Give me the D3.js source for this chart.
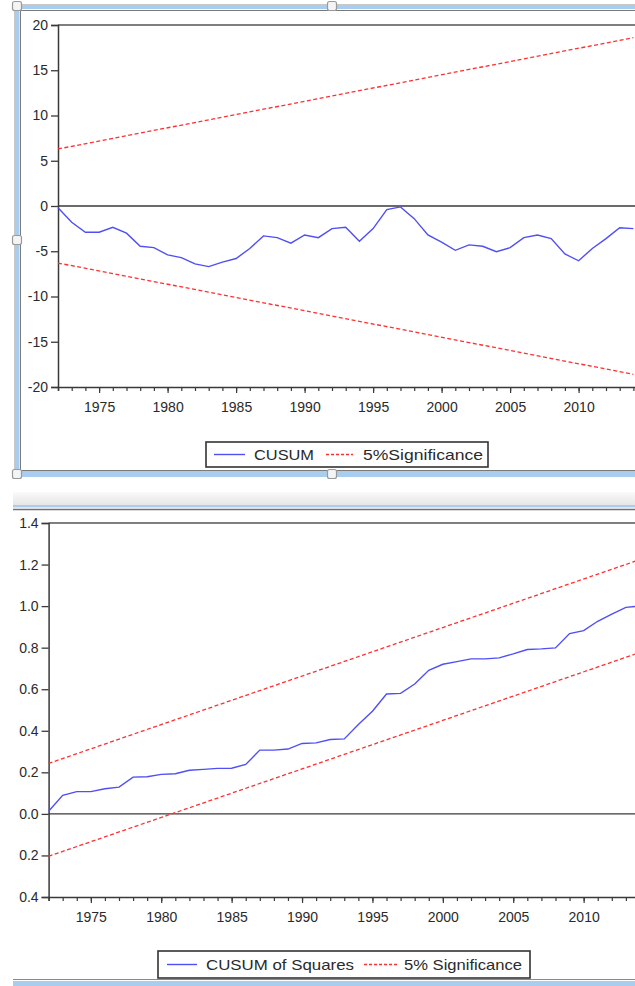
<!DOCTYPE html>
<html><head><meta charset="utf-8">
<script src="https://cdn.jsdelivr.net/npm/d3@7"></script>
<style>
html,body{margin:0;padding:0;background:#fff;overflow:hidden;}
svg{display:block;}
text{font-family:"Liberation Sans",Arial,sans-serif;fill:#2a2a2a;}
</style></head>
<body>
<svg id="c" width="635" height="986"></svg>
<script>
// ---------- data ----------
const years = [1972,1973,1974,1975,1976,1977,1978,1979,1980,1981,1982,1983,1984,1985,1986,1987,1988,1989,1990,1991,1992,1993,1994,1995,1996,1997,1998,1999,2000,2001,2002,2003,2004,2005,2006,2007,2008,2009,2010,2011,2012,2013,2014];
const cusum = [-0.2,-1.8,-2.9,-2.9,-2.35,-3.0,-4.45,-4.6,-5.4,-5.7,-6.4,-6.7,-6.2,-5.8,-4.7,-3.3,-3.5,-4.1,-3.2,-3.5,-2.5,-2.35,-3.9,-2.5,-0.4,-0.1,-1.4,-3.2,-4.0,-4.9,-4.3,-4.45,-5.05,-4.6,-3.5,-3.2,-3.6,-5.3,-6.05,-4.7,-3.6,-2.4,-2.5];
const cusumSq = [0.013,0.089,0.107,0.107,0.121,0.129,0.177,0.179,0.19,0.193,0.21,0.214,0.219,0.22,0.238,0.307,0.307,0.312,0.339,0.342,0.358,0.361,0.43,0.494,0.577,0.58,0.625,0.691,0.72,0.733,0.746,0.746,0.751,0.77,0.791,0.794,0.799,0.868,0.882,0.927,0.962,0.994,1.0];
const boundYears = [1972, 2014];
const cusumUpper = [6.3, 18.6];
const cusumLower = [-6.3, -18.6];
const sqUpper = [0.243, 1.224];
const sqLower = [-0.204, 0.777];
const cusumTicks = [20,15,10,5,0,-5,-10,-15,-20];
const sqTicks = [1.4,1.2,1.0,0.8,0.6,0.4,0.2,0.0,-0.2,-0.4];
const sqTickLabels = ["1.4","1.2","1.0","0.8","0.6","0.4","0.2","0.0","0.2","0.4"];
const xLabelYears = [1975,1980,1985,1990,1995,2000,2005,2010];
const xMajorTicks = [1975,1980,1985,1990,1995,2000,2005,2010,2015];
const legend1 = ["CUSUM","5%Significance"];
const legend2 = ["CUSUM of Squares","5% Significance"];

const BLUE = "#4f4ff5", RED = "#ff3030", AX = "#3a3a3a", WB = "#a9cdef";
const svg = d3.select("#c");

// ---------- window chrome ----------
function chrome(){
  svg.append("rect").attr("x",15).attr("y",5).attr("width",625).attr("height",4).attr("fill",WB);
  svg.append("line").attr("x1",15).attr("x2",640).attr("y1",4.5).attr("y2",4.5).attr("stroke","#c8c8c8");
  svg.append("line").attr("x1",20).attr("x2",640).attr("y1",10.5).attr("y2",10.5).attr("stroke","#7a7a7a");
  svg.append("rect").attr("x",15).attr("y",5).attr("width",4.5).attr("height",470).attr("fill",WB);
  svg.append("line").attr("x1",20.5).attr("x2",20.5).attr("y1",10).attr("y2",471).attr("stroke","#7a7a7a");
  svg.append("line").attr("x1",14.5).attr("x2",14.5).attr("y1",5).attr("y2",477).attr("stroke","#c8c8c8");
  svg.append("rect").attr("x",15).attr("y",471).attr("width",625).attr("height",6).attr("fill",WB);
  svg.append("line").attr("x1",20).attr("x2",640).attr("y1",470.5).attr("y2",470.5).attr("stroke","#7a7a7a");
  const handles = [[17,6],[17,240],[17,474],[332,6],[332,474]];
  svg.selectAll("rect.h").data(handles).enter().append("rect").attr("class","h")
    .attr("x",d=>d[0]-4.5).attr("y",d=>d[1]-4.5).attr("width",9).attr("height",9).attr("rx",2)
    .attr("fill","#f4f4f4").attr("stroke","#9a9a9a").attr("stroke-width",1.2);
  const g = svg.append("defs").append("linearGradient").attr("id","gb").attr("x1",0).attr("x2",0).attr("y1",0).attr("y2",1);
  g.append("stop").attr("offset","0%").attr("stop-color","#fafafa");
  g.append("stop").attr("offset","100%").attr("stop-color","#e6e6e6");
  svg.append("rect").attr("x",13).attr("y",492).attr("width",630).attr("height",13).attr("fill","url(#gb)");
  svg.append("rect").attr("x",13).attr("y",505).attr("width",630).attr("height",2.5).attr("fill",WB);
  svg.append("line").attr("x1",13).attr("x2",640).attr("y1",509.5).attr("y2",509.5).attr("stroke","#707070").attr("stroke-width",1.3);
  svg.append("line").attr("x1",13).attr("x2",640).attr("y1",979.5).attr("y2",979.5).attr("stroke","#8a8a8a");
  svg.append("rect").attr("x",13).attr("y",981).attr("width",630).attr("height",5).attr("fill",WB);
}
chrome();

// ---------- generic chart ----------
function chart(o){
  const x = d3.scaleLinear().domain([1972,2015]).range([o.left, o.left + 43*o.pxYear]);
  const y = d3.scaleLinear().domain(o.yDomain).range([o.bottom, o.top]);
  const g = svg.append("g");
  const right = x(2015);
  g.append("line").attr("x1",x(1972)).attr("x2",right).attr("y1",o.top).attr("y2",o.top).attr("stroke","#555").attr("stroke-width",1.5);
  g.append("line").attr("x1",x(1972)).attr("x2",right).attr("y1",y(0)).attr("y2",y(0)).attr("stroke",AX).attr("stroke-width",1.3);
  const ya = d3.axisLeft(y).tickValues(o.yTicks).tickSize(7).tickPadding(3).tickFormat((d,i)=>o.yLabels[i]);
  const yg = g.append("g").attr("transform",`translate(${x(1972)},0)`).call(ya);
  yg.select(".domain").attr("stroke",AX).attr("stroke-width",1.5);
  yg.selectAll(".tick line").attr("stroke",AX).attr("stroke-width",1.3);
  yg.selectAll(".tick text").attr("font-size",14).attr("fill","#2a2a2a").attr("font-family","Liberation Sans, Arial, sans-serif");
  const xm = d3.axisBottom(x).tickValues(years.concat([2015])).tickSize(4).tickFormat("");
  const xg = g.append("g").attr("transform",`translate(0,${o.bottom})`).call(xm);
  xg.select(".domain").attr("stroke",AX).attr("stroke-width",1.5);
  xg.selectAll(".tick line").attr("stroke",AX).attr("stroke-width",1.2);
  const xM = d3.axisBottom(x).tickValues(xMajorTicks).tickSize(6).tickPadding(9)
    .tickFormat(d => xLabelYears.includes(d) ? d3.format("d")(d) : "");
  const xg2 = g.append("g").attr("transform",`translate(0,${o.bottom})`).call(xM);
  xg2.select(".domain").remove();
  xg2.selectAll(".tick line").attr("stroke",AX).attr("stroke-width",1.2);
  xg2.selectAll(".tick text").attr("font-size",14).attr("fill","#2a2a2a").attr("font-family","Liberation Sans, Arial, sans-serif");
  const line2 = d3.line().x((d,i)=>x(boundYears[i])).y(d=>y(d));
  [o.upper,o.lower].forEach(b=>{
    g.append("path").datum(b).attr("d",line2).attr("fill","none").attr("stroke",RED).attr("stroke-width",1.3).attr("stroke-dasharray","4,2.5");
  });
  const line = d3.line().x((d,i)=>x(years[i])).y(d=>y(d));
  g.append("path").datum(o.series).attr("d",line).attr("fill","none").attr("stroke",BLUE).attr("stroke-width",1.4);
  const L = o.legend;
  g.append("rect").attr("x",L.x).attr("y",L.y).attr("width",L.w).attr("height",L.h).attr("fill","#fff").attr("stroke","#333").attr("stroke-width",1.6);
  const cy = L.y + L.h/2;
  g.append("line").attr("x1",L.b1[0]).attr("x2",L.b1[1]).attr("y1",cy).attr("y2",cy).attr("stroke",BLUE).attr("stroke-width",1.4);
  g.append("text").attr("x",L.t1[0]).attr("y",cy+5).attr("font-size",15).attr("textLength",L.t1[1]).attr("lengthAdjust","spacingAndGlyphs").text(L.labels[0]);
  g.append("line").attr("x1",L.b2[0]).attr("x2",L.b2[1]).attr("y1",cy).attr("y2",cy).attr("stroke",RED).attr("stroke-width",1.3).attr("stroke-dasharray","3,2");
  g.append("text").attr("x",L.t2[0]).attr("y",cy+5).attr("font-size",15).attr("textLength",L.t2[1]).attr("lengthAdjust","spacingAndGlyphs").text(L.labels[1]);
}

chart({left:58, pxYear:13.7, top:25, bottom:387, yDomain:[-20,20], yTicks:cusumTicks, yLabels:cusumTicks.map(String),
  series:cusum, upper:cusumUpper, lower:cusumLower,
  legend:{x:206,y:442,w:282,h:25,b1:[214,245],t1:[254,60],b2:[326,353],t2:[363,120],labels:legend1}});

chart({left:48.6, pxYear:14.08, top:523, bottom:897, yDomain:[-0.4,1.4], yTicks:sqTicks, yLabels:sqTickLabels,
  series:cusumSq, upper:sqUpper, lower:sqLower,
  legend:{x:158,y:951,w:372,h:27,b1:[167,197],t1:[206,148],b2:[364,399],t2:[404,118],labels:legend2}});
</script>
</body></html>
